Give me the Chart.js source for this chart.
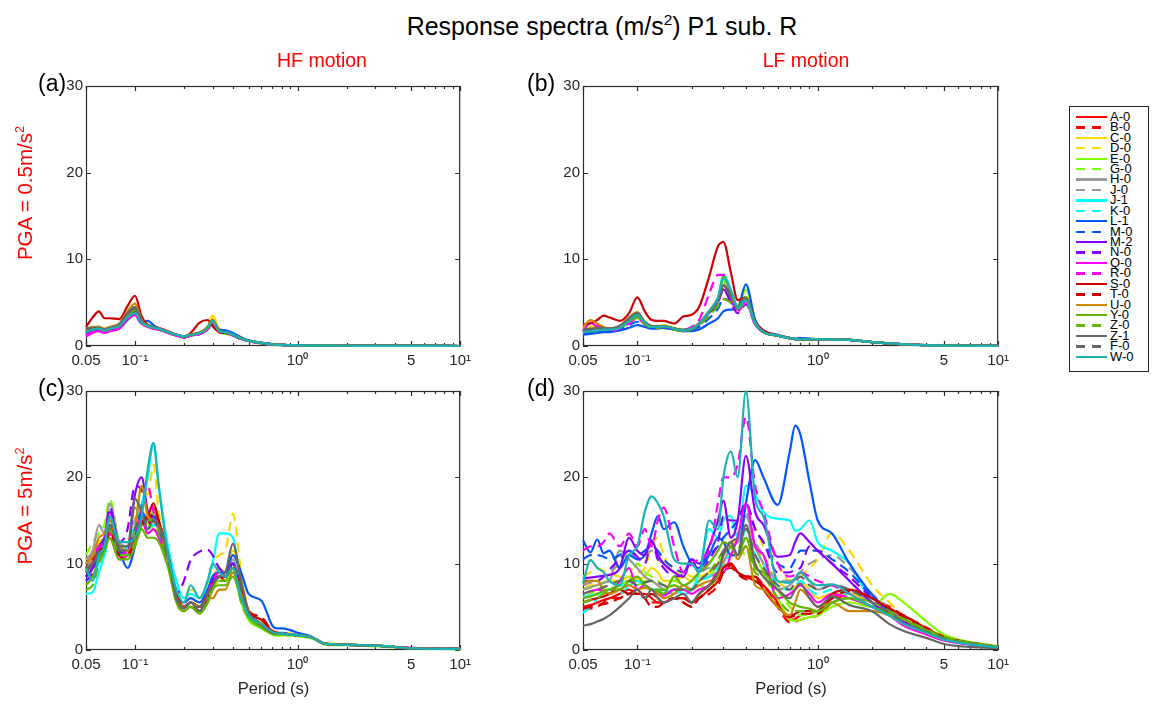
<!DOCTYPE html>
<html>
<head>
<meta charset="utf-8">
<script src="https://cdn.jsdelivr.net/npm/chart.js@4.4.1/dist/chart.umd.min.js"></script>
<style>
  body { margin: 0; background: #fff; font-family: 'Liberation Sans', Arial, Helvetica, sans-serif; }
  #fig { position: relative; width: 1159px; height: 704px; overflow: hidden; background: #fff; }
  .txt { position: absolute; white-space: nowrap; line-height: 1; }
  sup { font-size: 0.62em; vertical-align: 0; position: relative; top: -0.62em; line-height: 0; }
  .panel { position: absolute; }
  #legend { position: absolute; left: 1069px; top: 106px; width: 80px; height: 266px; border: 1px solid #262626; box-sizing: border-box; background: #fff; }
  .lrow { position: absolute; left: 0; height: 10.4px; width: 78px; }
  .lsw { position: absolute; left: 6px; top: 4px; width: 31px; height: 2.4px; }
  .llab { position: absolute; left: 40px; top: 0; font-size: 13px; line-height: 10.4px; color: #000; }
</style>
</head>
<body>
<div id="fig">
  <div class="txt" style="left:302px;width:600px;text-align:center;top:14px;font-size:25px;color:#000;">Response spectra (m/s<sup>2</sup>) P1 sub. R</div>
  <div class="txt" style="left:222px;width:200px;text-align:center;top:51px;font-size:19.5px;color:#ff0000;">HF motion</div>
  <div class="txt" style="left:706px;width:200px;text-align:center;top:51px;font-size:19.5px;color:#ff0000;">LF motion</div>
  <div class="txt" style="left:25px;top:193px;font-size:20.5px;color:#ff0000;transform:translate(-50%,-50%) rotate(-90deg);">PGA = 0.5m/s<sup>2</sup></div>
  <div class="txt" style="left:25px;top:506px;font-size:20.5px;color:#ff0000;transform:translate(-50%,-50%) rotate(-90deg);">PGA = 5m/s<sup>2</sup></div>
  <div class="txt" style="left:38px;top:72px;font-size:23px;color:#000;">(a)</div>
  <div class="txt" style="left:527px;top:72px;font-size:23px;color:#000;">(b)</div>
  <div class="txt" style="left:38px;top:377px;font-size:23px;color:#000;">(c)</div>
  <div class="txt" style="left:527px;top:377px;font-size:23px;color:#000;">(d)</div>
  <div class="txt" style="left:173.5px;width:200px;text-align:center;top:680px;font-size:16.5px;color:#262626;">Period (s)</div>
  <div class="txt" style="left:691px;width:200px;text-align:center;top:680px;font-size:16.5px;color:#262626;">Period (s)</div>
  <div id="legend"></div>
</div>
<script>
// periods (s) at which the spectra are read
const periods = [0.05, 0.055, 0.06, 0.065, 0.07, 0.08, 0.09, 0.1, 0.11, 0.12, 0.13, 0.14, 0.16, 0.18, 0.2, 0.22, 0.25, 0.28, 0.3, 0.33, 0.36, 0.4, 0.45, 0.5, 0.6, 0.7, 0.75, 0.8, 0.9, 1.0, 1.2, 1.5, 2, 2.5, 3, 4, 5, 10];

const seriesNames = ['A-0','B-0','C-0','D-0','E-0','G-0','H-0','J-0','J-1','K-0','L-1','M-0','M-2','N-0','Q-0','R-0','S-0','T-0','U-0','Y-0','Z-0','Z-1','F-0','W-0'];
const seriesColors = ['#ff0000','#ff0000','#ffd800','#ffd800','#80ff00','#80ff00','#999999','#999999','#00ffff','#00ffff','#0055ff','#0055ff','#8800ff','#8800ff','#ff00ff','#ff00ff','#cc0000','#cc0000','#cc8800','#66b300','#66b300','#666666','#666666','#19b3b3'];
const seriesDashed = [false,true,false,true,false,true,false,true,false,true,false,true,false,true,false,true,false,true,false,false,true,false,true,false];

const xTickValues = [0.05, 0.1, 1, 5, 10];
const xTickLabels = ['0.05', '10\u207B\u00B9', '10\u2070', '5', '10\u00B9'];
const xMinorTicks = [0.2, 0.3, 0.4, 0.5, 0.6, 0.7, 0.8, 0.9, 2, 3, 4, 6, 7, 8, 9];
const yTickValues = [0, 10, 20, 30];

// (a) HF motion, PGA = 0.5 m/s2
const valuesA = [
  [1.9,2.1,2.2,1.9,2.1,2.5,3.8,4.4,3.0,2.4,2.3,2.1,1.7,1.3,1.1,1.3,1.6,2.2,3.0,1.8,1.6,1.3,0.9,0.6,0.35,0.2,0.15,0.12,0.1,0.08,0.05,0.04,0.03,0.02,0.02,0.01,0.01,0],
  [1.6,1.9,2.0,1.8,1.9,2.3,3.5,4.1,2.9,2.3,2.1,2.0,1.6,1.3,1.0,1.2,1.5,2.0,2.8,1.7,1.5,1.3,0.9,0.6,0.35,0.2,0.15,0.12,0.1,0.08,0.05,0.04,0.03,0.02,0.02,0.01,0.01,0],
  [1.8,2.1,2.0,1.9,2.1,2.4,3.7,4.3,2.8,2.3,2.2,2.0,1.6,1.3,1.1,1.4,1.6,2.3,3.5,2.0,1.8,1.4,0.9,0.6,0.35,0.2,0.15,0.12,0.1,0.08,0.05,0.04,0.03,0.02,0.02,0.01,0.01,0],
  [1.7,2.0,2.1,1.8,2.0,2.5,3.6,4.0,2.7,2.3,2.2,2.0,1.6,1.3,1.1,1.3,1.5,2.2,3.2,1.9,1.7,1.3,0.9,0.6,0.35,0.2,0.15,0.12,0.1,0.08,0.05,0.04,0.03,0.02,0.02,0.01,0.01,0],
  [1.5,1.8,1.9,1.7,1.9,2.2,3.4,3.9,2.6,2.2,2.1,1.9,1.5,1.2,1.0,1.2,1.4,2.0,2.7,1.6,1.5,1.2,0.8,0.55,0.3,0.18,0.14,0.11,0.09,0.07,0.05,0.04,0.03,0.02,0.02,0.01,0.01,0],
  [1.4,1.7,1.8,1.6,1.8,2.1,3.3,3.8,2.7,2.2,2.0,1.9,1.5,1.2,1.0,1.2,1.4,1.9,2.6,1.6,1.4,1.2,0.8,0.55,0.3,0.18,0.14,0.11,0.09,0.07,0.05,0.04,0.03,0.02,0.02,0.01,0.01,0],
  [1.8,2.0,2.1,1.9,2.0,2.4,3.8,4.5,2.9,2.4,2.2,2.0,1.6,1.3,1.1,1.3,1.5,2.1,2.9,1.7,1.6,1.3,0.9,0.6,0.35,0.2,0.15,0.12,0.1,0.08,0.05,0.04,0.03,0.02,0.02,0.01,0.01,0],
  [1.7,2.0,2.0,1.8,2.0,2.3,3.6,4.2,2.8,2.3,2.1,2.0,1.6,1.3,1.1,1.3,1.5,2.0,2.8,1.7,1.6,1.3,0.9,0.6,0.35,0.2,0.15,0.12,0.1,0.08,0.05,0.04,0.03,0.02,0.02,0.01,0.01,0],
  [1.5,1.8,1.9,1.7,1.9,2.2,3.3,3.7,2.7,2.3,2.1,1.9,1.5,1.2,1.0,1.2,1.4,2.0,2.7,1.6,1.5,1.2,0.8,0.55,0.3,0.18,0.14,0.11,0.09,0.07,0.05,0.04,0.03,0.02,0.02,0.01,0.01,0],
  [1.6,1.9,1.9,1.7,1.9,2.2,3.4,3.8,2.7,2.3,2.1,1.9,1.5,1.2,1.0,1.2,1.4,2.0,2.8,1.6,1.5,1.2,0.85,0.55,0.3,0.18,0.14,0.11,0.09,0.07,0.05,0.04,0.03,0.02,0.02,0.01,0.01,0],
  [1.4,1.7,1.7,1.6,1.8,2.0,3.0,3.6,2.6,2.9,2.4,2.0,1.6,1.3,1.1,1.3,1.5,2.0,2.7,1.9,1.8,1.5,1.0,0.65,0.4,0.22,0.16,0.13,0.1,0.08,0.05,0.04,0.03,0.02,0.02,0.01,0.01,0],
  [1.5,1.8,1.8,1.7,1.8,2.1,3.2,3.8,2.7,2.5,2.2,2.0,1.6,1.3,1.0,1.2,1.5,2.0,2.7,1.8,1.7,1.4,0.95,0.6,0.38,0.21,0.15,0.12,0.1,0.08,0.05,0.04,0.03,0.02,0.02,0.01,0.01,0],
  [1.6,1.9,1.9,1.7,1.9,2.2,3.4,4.0,2.7,2.3,2.1,2.0,1.6,1.3,1.1,1.3,1.5,2.0,2.8,1.7,1.6,1.3,0.9,0.6,0.35,0.2,0.15,0.12,0.1,0.08,0.05,0.04,0.03,0.02,0.02,0.01,0.01,0],
  [1.5,1.8,1.9,1.7,1.9,2.2,3.3,3.9,2.7,2.3,2.1,1.9,1.6,1.3,1.0,1.2,1.4,2.0,2.7,1.7,1.5,1.3,0.9,0.6,0.35,0.2,0.15,0.12,0.1,0.08,0.05,0.04,0.03,0.02,0.02,0.01,0.01,0],
  [1.1,1.5,1.7,1.5,1.7,2.0,3.1,3.6,2.6,2.2,2.0,1.9,1.5,1.2,1.0,1.2,1.4,1.9,2.6,1.6,1.5,1.2,0.8,0.55,0.3,0.18,0.14,0.11,0.09,0.07,0.05,0.04,0.03,0.02,0.02,0.01,0.01,0],
  [1.2,1.6,1.8,1.6,1.8,2.1,3.2,3.7,2.6,2.2,2.0,1.9,1.5,1.2,1.0,1.2,1.4,1.9,2.7,1.6,1.5,1.2,0.85,0.55,0.3,0.18,0.14,0.11,0.09,0.07,0.05,0.04,0.03,0.02,0.02,0.01,0.01,0],
  [2.2,3.3,4.0,3.2,3.2,3.1,4.6,5.8,3.4,2.4,2.2,2.0,1.6,1.3,1.1,1.5,2.7,3.0,2.3,1.6,1.5,1.3,0.9,0.6,0.35,0.2,0.15,0.12,0.1,0.08,0.05,0.04,0.03,0.02,0.02,0.01,0.01,0],
  [1.8,2.0,2.1,1.9,2.0,2.4,3.6,4.2,2.8,2.3,2.2,2.0,1.6,1.3,1.1,1.3,1.5,2.1,2.9,1.7,1.6,1.3,0.9,0.6,0.35,0.2,0.15,0.12,0.1,0.08,0.05,0.04,0.03,0.02,0.02,0.01,0.01,0],
  [2.0,2.2,2.2,2.0,2.2,2.6,4.0,4.9,3.0,2.4,2.2,2.0,1.6,1.3,1.1,1.3,1.5,2.1,2.9,1.7,1.6,1.3,0.9,0.6,0.35,0.2,0.15,0.12,0.1,0.08,0.05,0.04,0.03,0.02,0.02,0.01,0.01,0],
  [1.7,2.0,2.0,1.8,2.0,2.4,3.6,4.3,2.8,2.3,2.2,2.0,1.6,1.3,1.1,1.3,1.5,2.1,3.0,1.7,1.6,1.3,0.9,0.6,0.35,0.2,0.15,0.12,0.1,0.08,0.05,0.04,0.03,0.02,0.02,0.01,0.01,0],
  [1.6,1.9,1.9,1.8,1.9,2.3,3.5,4.1,2.8,2.3,2.1,2.0,1.6,1.3,1.1,1.3,1.5,2.0,2.8,1.7,1.6,1.3,0.9,0.6,0.35,0.2,0.15,0.12,0.1,0.08,0.05,0.04,0.03,0.02,0.02,0.01,0.01,0],
  [2.0,2.1,2.1,1.9,2.1,2.5,3.8,4.5,2.9,2.4,2.2,2.0,1.6,1.3,1.1,1.3,1.5,2.2,3.0,1.8,1.6,1.3,0.9,0.6,0.35,0.2,0.15,0.12,0.1,0.08,0.05,0.04,0.03,0.02,0.02,0.01,0.01,0],
  [1.9,2.0,2.1,1.9,2.0,2.4,3.7,4.3,2.8,2.3,2.2,2.0,1.6,1.3,1.1,1.3,1.5,2.1,2.9,1.7,1.6,1.3,0.9,0.6,0.35,0.2,0.15,0.12,0.1,0.08,0.05,0.04,0.03,0.02,0.02,0.01,0.01,0],
  [1.6,1.9,2.0,1.8,2.0,2.3,3.3,3.8,2.7,2.3,2.1,2.0,1.6,1.3,1.1,1.3,1.5,2.1,2.9,1.7,1.6,1.3,0.9,0.6,0.35,0.2,0.15,0.12,0.1,0.08,0.05,0.04,0.03,0.02,0.02,0.01,0.01,0]
];

// (b) LF motion, PGA = 0.5 m/s2
const valuesB = [
  [1.8,1.9,2.0,2.0,2.0,2.2,3.0,3.5,2.7,2.3,2.2,2.3,2.0,1.8,2.0,2.6,3.9,5.2,7.0,5.6,4.4,5.5,2.7,1.6,1.2,0.9,0.8,0.75,0.8,0.8,0.75,0.7,0.45,0.3,0.2,0.1,0.05,0.02],
  [1.7,1.8,1.9,2.0,1.9,2.1,2.9,3.4,2.6,2.2,2.2,2.2,2.0,1.8,2.0,2.5,3.8,5.0,6.8,5.5,4.3,5.3,2.6,1.6,1.2,0.9,0.8,0.75,0.8,0.8,0.75,0.7,0.45,0.3,0.2,0.1,0.05,0.02],
  [2.0,2.2,2.3,2.1,2.0,2.3,3.1,3.7,2.8,2.3,2.3,2.4,2.1,1.9,2.1,2.7,4.0,5.4,7.2,5.8,4.5,5.6,2.8,1.6,1.2,0.9,0.8,0.75,0.8,0.8,0.75,0.7,0.45,0.3,0.2,0.1,0.05,0.02],
  [1.9,2.1,2.2,2.0,2.0,2.2,3.0,3.6,2.7,2.3,2.2,2.3,2.0,1.9,2.0,2.6,3.9,5.3,7.0,5.7,4.4,5.4,2.7,1.6,1.2,0.9,0.8,0.75,0.8,0.8,0.75,0.7,0.45,0.3,0.2,0.1,0.05,0.02],
  [1.5,1.6,1.7,1.8,1.8,2.0,2.7,3.2,2.5,2.1,2.1,2.1,1.9,1.7,1.9,2.5,3.8,5.2,7.5,6.0,4.6,6.5,3.0,1.6,1.2,0.9,0.8,0.75,0.8,0.8,0.75,0.7,0.45,0.3,0.2,0.1,0.05,0.02],
  [1.5,1.6,1.7,1.8,1.8,2.0,2.8,3.3,2.5,2.1,2.1,2.2,1.9,1.7,1.9,2.4,3.6,4.8,6.5,5.4,4.3,5.6,2.7,1.6,1.2,0.9,0.8,0.75,0.8,0.8,0.75,0.7,0.45,0.3,0.2,0.1,0.05,0.02],
  [1.8,1.9,2.0,2.0,2.0,2.2,3.1,3.6,2.7,2.2,2.2,2.3,2.0,1.8,2.0,2.6,3.9,5.3,7.0,5.8,4.4,5.4,2.6,1.6,1.2,0.9,0.8,0.75,0.8,0.8,0.75,0.7,0.45,0.3,0.2,0.1,0.05,0.02],
  [1.7,1.8,1.9,2.0,2.0,2.2,3.0,3.5,2.6,2.2,2.2,2.3,2.0,1.8,2.0,2.6,3.8,5.1,6.8,5.6,4.3,5.3,2.6,1.6,1.2,0.9,0.8,0.75,0.8,0.8,0.75,0.7,0.45,0.3,0.2,0.1,0.05,0.02],
  [1.6,1.8,1.9,2.0,2.0,2.2,3.0,3.6,2.7,2.2,2.2,2.3,2.0,1.8,2.0,2.6,4.0,5.5,8.3,6.5,4.5,5.4,2.6,1.6,1.2,0.9,0.8,0.75,0.8,0.8,0.75,0.7,0.45,0.3,0.2,0.1,0.05,0.02],
  [1.6,1.7,1.8,1.9,1.9,2.1,2.9,3.4,2.6,2.2,2.2,2.2,2.0,1.8,2.0,2.5,3.8,5.0,7.0,5.7,4.4,5.3,2.6,1.6,1.2,0.9,0.8,0.75,0.8,0.8,0.75,0.7,0.45,0.3,0.2,0.1,0.05,0.02],
  [1.3,1.4,1.5,1.6,1.6,1.8,2.1,2.4,2.2,2.0,2.0,2.1,1.9,1.7,1.7,1.9,2.6,3.2,4.0,4.2,4.4,7.1,3.0,1.8,1.3,0.95,0.85,0.9,0.85,0.8,0.75,0.7,0.45,0.3,0.2,0.1,0.05,0.02],
  [1.4,1.5,1.6,1.7,1.7,1.9,2.4,2.8,2.4,2.1,2.1,2.1,1.9,1.7,1.8,2.2,3.2,4.3,5.5,5.0,4.3,5.5,2.7,1.6,1.2,0.9,0.8,0.75,0.8,0.8,0.75,0.7,0.45,0.3,0.2,0.1,0.05,0.02],
  [1.6,1.7,1.8,1.9,1.9,2.1,2.9,3.5,2.6,2.2,2.2,2.2,2.0,1.8,2.0,2.5,3.8,5.2,6.5,5.3,4.2,5.2,2.6,1.6,1.2,0.9,0.8,0.75,0.8,0.8,0.75,0.7,0.45,0.3,0.2,0.1,0.05,0.02],
  [1.6,1.8,1.9,2.0,2.0,2.3,3.2,3.8,2.7,2.2,2.2,2.3,2.0,1.8,2.0,2.6,3.8,5.0,6.5,5.0,3.8,4.8,2.5,1.6,1.2,0.9,0.8,0.75,0.8,0.8,0.75,0.7,0.45,0.3,0.2,0.1,0.05,0.02],
  [1.7,2.7,2.2,2.0,1.9,2.1,2.9,3.4,2.6,2.2,2.2,2.2,2.0,1.8,2.0,2.6,4.0,5.5,7.0,5.6,4.3,5.2,2.5,1.6,1.2,0.9,0.8,0.75,0.8,0.8,0.75,0.7,0.45,0.3,0.2,0.1,0.05,0.02],
  [1.6,1.8,2.4,2.0,1.8,2.0,2.6,3.2,2.5,2.2,2.2,2.3,2.0,1.9,2.2,3.0,6.0,8.2,8.2,6.0,4.0,5.0,2.5,1.6,1.2,0.9,0.8,0.75,0.8,0.8,0.75,0.7,0.45,0.3,0.2,0.1,0.05,0.02],
  [2.5,2.6,3.0,3.5,3.3,2.9,3.8,5.6,4.0,3.0,2.9,2.9,2.6,3.4,3.6,4.5,8.0,11.5,12.0,8.5,5.3,5.6,2.8,1.8,1.2,0.9,0.8,0.75,0.8,0.8,0.75,0.7,0.45,0.3,0.2,0.1,0.05,0.02],
  [1.8,1.9,2.0,2.0,2.0,2.2,3.0,3.5,2.7,2.2,2.2,2.3,2.0,1.8,2.0,2.6,3.9,5.2,6.9,5.6,4.4,5.4,2.7,1.6,1.2,0.9,0.8,0.75,0.8,0.8,0.75,0.7,0.45,0.3,0.2,0.1,0.05,0.02],
  [2.2,3.0,2.6,2.2,2.0,2.3,3.3,3.9,2.8,2.3,2.2,2.3,2.0,1.8,2.0,2.6,3.9,5.3,7.0,5.7,4.4,5.4,2.7,1.6,1.2,0.9,0.8,0.75,0.8,0.8,0.75,0.7,0.45,0.3,0.2,0.1,0.05,0.02],
  [1.7,1.8,1.9,2.0,2.0,2.2,3.0,3.5,2.6,2.2,2.2,2.3,2.0,1.8,2.0,2.6,3.9,5.4,8.0,6.3,4.6,5.6,2.7,1.6,1.2,0.9,0.8,0.75,0.8,0.8,0.75,0.7,0.45,0.3,0.2,0.1,0.05,0.02],
  [1.6,1.7,1.8,1.9,1.9,2.1,2.8,3.3,2.5,2.1,2.1,2.2,1.9,1.7,1.9,2.4,3.5,4.6,5.4,5.0,4.3,5.0,2.6,1.6,1.2,0.9,0.8,0.75,0.8,0.8,0.75,0.7,0.45,0.3,0.2,0.1,0.05,0.02],
  [1.9,2.0,2.1,2.1,2.0,2.3,3.2,3.8,2.8,2.3,2.3,2.3,2.0,1.9,2.0,2.6,4.0,5.4,7.0,5.8,4.5,5.5,2.7,1.6,1.2,0.9,0.8,0.75,0.8,0.8,0.75,0.7,0.45,0.3,0.2,0.1,0.05,0.02],
  [1.8,1.9,2.0,2.0,2.0,2.2,3.0,3.6,2.7,2.2,2.2,2.3,2.0,1.8,2.0,2.6,3.9,5.2,6.8,5.6,4.4,5.4,2.7,1.6,1.2,0.9,0.8,0.75,0.8,0.8,0.75,0.7,0.45,0.3,0.2,0.1,0.05,0.02],
  [1.6,1.7,1.8,1.9,1.9,2.1,2.9,3.6,2.7,2.2,2.2,2.3,2.0,1.8,2.0,2.6,4.0,5.6,7.8,6.4,4.4,5.3,2.6,1.6,1.2,0.9,0.8,0.75,0.8,0.8,0.75,0.7,0.45,0.3,0.2,0.1,0.05,0.02]
];

// (c) HF motion, PGA = 5 m/s2
const valuesC = [
  [9.5,10.5,12,12.5,14.5,11.5,11,13,15,14,15.5,14.5,10.5,6,5,5.5,5,6.5,8,9,8.5,10,7,4.3,3.0,2.0,1.9,1.9,1.8,1.7,1.5,0.7,0.6,0.55,0.5,0.35,0.2,0.12],
  [8.5,9.5,11.5,12,14,11,10.5,12.5,16,14.5,16.5,15,11,6.5,5,5,4.5,6,7.5,8.5,8,9.5,6.5,4.0,3.5,2.1,1.9,1.8,1.8,1.7,1.5,0.7,0.6,0.55,0.5,0.35,0.2,0.12],
  [10,11,12.5,13,15,12,11.5,14,16,15.5,17,15,11,6.5,5.5,6,5.5,7,8.5,9.5,9,11.5,8,4.5,3.2,2.2,2.0,1.9,1.8,1.7,1.5,0.7,0.6,0.55,0.5,0.35,0.2,0.12],
  [10.5,11,12,13,15.5,12.5,12,15,19,18,21.5,16,11,7.5,6,7,6,8,10,11,11.5,15.8,9,4.5,3.0,2.0,1.9,1.9,2.0,1.8,1.5,0.8,0.7,0.6,0.55,0.4,0.2,0.12],
  [10,11,11.5,12.5,14,11,11,13.5,15,14.5,14,13.5,10,6,5,5,4.5,5.5,7,8,8,9,5.5,3.5,2.5,1.8,1.7,1.7,1.7,1.6,1.4,0.6,0.55,0.5,0.45,0.3,0.2,0.1],
  [11,12.5,13.5,14.5,17.5,12.5,11.5,13,14.5,15,16,14,10.5,6,5,5.5,5,6,7.5,8.5,8.5,10,6,3.5,2.5,1.8,1.7,1.7,1.7,1.6,1.4,0.6,0.55,0.5,0.45,0.3,0.2,0.1],
  [10.5,11.5,14.5,13.5,17,12.5,12,16.5,15,14,15,14,10.5,6,5,5.5,5,6.5,8,9,8.5,10.5,7,4.2,2.8,2.0,1.9,1.9,1.8,1.7,1.5,0.7,0.6,0.55,0.5,0.35,0.2,0.12],
  [9.5,10.5,12.5,13,15.5,12,11.5,15,16,14.5,15.5,14.5,10.5,6,5,5.5,5,6.5,7.5,8.5,8.5,10,7,4.2,2.8,2.0,1.9,1.9,1.8,1.7,1.5,0.7,0.6,0.55,0.5,0.35,0.2,0.12],
  [6.5,6.7,9,11,13.5,11.5,12,14.5,17,20,24,19,12,8,6,6.5,6,8,10,13.5,13.5,13,7.5,4.5,3.0,2.0,1.9,1.9,1.8,1.7,1.5,0.7,0.6,0.55,0.5,0.35,0.2,0.12],
  [8,8.5,10,11,13,11,11,13,15,14,14.5,13.5,10,6,5,5.5,5,6.5,8,9,9,10,6.5,4,2.8,2.0,1.9,1.9,1.8,1.7,1.5,0.7,0.6,0.55,0.5,0.35,0.2,0.12],
  [8.5,9.5,11,12,14,11.5,9.5,12,16,15,15.5,14,10.5,6.5,5.5,6,5.5,7,8.5,9,9,11,9,6.5,5.7,2.8,2.5,2.5,2.3,2.0,1.6,0.7,0.6,0.55,0.5,0.35,0.2,0.12],
  [9,10,11.5,12.5,14.5,12,11,13.5,16,15,15,14,10.5,6,5,5.5,5,6.5,8,9,8.5,10,7,4.3,3.0,2.1,2.0,2.0,1.9,1.7,1.5,0.7,0.6,0.55,0.5,0.35,0.2,0.12],
  [8.5,9.5,12,13,16,12,11.5,18,20,16,15,14,10,6,5,5.5,5,6.5,8,8.5,8.5,10,7,4.2,2.8,2.0,1.9,1.9,1.8,1.7,1.5,0.7,0.6,0.55,0.5,0.35,0.2,0.12],
  [8,9,11.5,13,16.5,12.5,14,19,18.5,16,15,14,10.5,6.5,8,10.4,11.4,11.6,11,9.5,9,10,7,4.2,2.8,2.0,1.9,1.9,1.8,1.7,1.5,0.7,0.6,0.55,0.5,0.35,0.2,0.12],
  [9,10,11,12,13,10.5,11,12.5,15,13.5,14,13,10,6,5,5.5,5,6.5,7.5,8.5,8.5,9.5,6.5,4,2.8,2.0,1.9,1.9,1.8,1.7,1.5,0.7,0.6,0.55,0.5,0.35,0.25,0.2],
  [10,11,12,12.5,13.5,11,11.5,13,16.5,19,16,14,10.5,6,5,5.5,5,6.5,8,9,8.5,9.5,6.5,4,2.8,2.0,1.9,1.9,1.8,1.7,1.5,0.7,0.6,0.55,0.5,0.35,0.25,0.2],
  [9,10,11.5,12,14,11,11,13,14.5,15.5,17,15,11,6.5,5,5.5,5,6.5,7.5,8.5,8.5,9.5,7,4.5,3.5,2.2,2.0,1.9,1.8,1.7,1.5,0.7,0.6,0.55,0.5,0.35,0.2,0.12],
  [9.5,10,11,12,13.5,11,10.5,12.5,15,14.5,16,15,11,6.5,5,5.5,4.5,6,7.5,8.5,8.5,9.5,7,4.5,3.8,2.2,2.0,1.9,1.8,1.7,1.5,0.7,0.6,0.55,0.5,0.35,0.2,0.12],
  [10,11,13,13.5,15,12,11.5,14,19,15.5,15,14,10.5,6,5,5.5,5,6,6,7,7,9,6.5,4,2.8,2.0,1.9,1.9,1.8,1.7,1.5,0.7,0.6,0.55,0.5,0.35,0.2,0.12],
  [7.5,8.5,10.5,11.5,13,10.5,10.5,12,14,13,13,12.5,9.5,5.5,4.5,5,4.2,5.5,7,7.5,7.5,8.5,6,3.8,2.6,1.9,1.8,1.8,1.8,1.7,1.5,0.7,0.6,0.55,0.5,0.35,0.2,0.12],
  [7,7.5,10,11.5,14,11,11,12.5,14.5,15,15,13.5,10,5.5,4.5,5,4.5,5.5,7,8,8,9.5,5.5,3.8,2.6,1.9,1.8,1.8,1.8,1.7,1.5,0.7,0.6,0.55,0.5,0.35,0.2,0.12],
  [9.5,10,11,12,15.5,12,12,17.5,16,14,15,14.5,11,6,4.8,5.5,4.5,6.5,7.5,8.5,9,12.3,8,4.5,3.0,2.0,1.9,1.9,1.8,1.7,1.5,0.7,0.6,0.55,0.5,0.35,0.2,0.12],
  [9,10,11.5,12,14.5,11.5,11.5,14,15.5,14.5,15,14,10.5,6,5,5.5,5,6.5,7.5,8.5,8.5,10,7,4.3,2.9,2.0,1.9,1.9,1.8,1.7,1.5,0.7,0.6,0.55,0.5,0.35,0.2,0.12],
  [9.5,8,11,12,15.5,12.5,12.5,13,15.5,21,24,19,11,7,5.5,7.5,6,8,10,9,8.5,9.5,6,4,3.0,2.1,1.9,1.9,1.8,1.7,1.5,0.7,0.6,0.55,0.5,0.35,0.2,0.12]
];

// (d) LF motion, PGA = 5 m/s2
const valuesD = [
  [5,5.2,5.5,5.8,6,6.5,7,6.5,6.5,6,5.5,5.5,6,6,5.5,6,7,8,9.5,10,9,8.5,8,7.5,5.5,3.5,3.6,4,4.2,4.5,6,6.5,5.5,4.6,3.8,2.4,1.5,0.35],
  [4.5,4.8,5,5.5,6,6,6.5,7,6,5.5,5.5,5.5,6,5.5,5,6,6.5,7.5,9,9.5,9,8.5,8.5,7.5,5,3.2,3.3,3.5,3.8,4,5.5,6.5,6,5,4,2.6,1.6,0.35],
  [7,7.5,7.5,7.8,8,8,8.5,8.2,8.5,9.5,9,8,8,8.5,8,8.5,9,10,11,12,13,14,12,10,8,7,7.3,8,7,6,6.5,6.5,5.5,4.6,3.5,2.3,1.4,0.35],
  [8.5,9,9.5,9.2,9,8.5,9.5,9,9.5,12,13,11,9,9,8.5,8.5,9,10,11,12,12.5,13,14,12,10,8,8.2,8.5,9.5,10.5,13.5,11.5,7.5,5.5,3.8,2.4,1.3,0.3],
  [6,6.5,7,7,7,7.5,8,7.5,8,8,7.5,7,7.5,7,7,8,8.5,10,11,12,11,13,11,9,6,3.5,3.4,3.5,3.8,4,5,5.5,5,6.5,5.5,3.3,1.8,0.4],
  [7,7.2,7.5,7.8,8,7.5,8,10,9,8.5,8,7.5,8,7.5,7,7.5,7,9,10,11,12,11,12.5,10,7,5,4.5,4,4.2,4.5,5.5,6,5.5,4.8,3.8,2.5,1.6,0.35],
  [7,7.3,7.5,7.8,8,11.5,10.5,9.5,8.5,8,7.5,7,6.5,7.5,7,8,8.5,9,10,12,12.5,15.5,12,10,7,7.5,8.2,9,8,7,7.5,7,5.5,4.3,3.2,2.2,1.3,0.3],
  [7.5,7.8,8,8.5,9,10,11.5,10.5,11,11.5,10.5,10,9,8.5,10,9,9.5,8.5,10,13,13.5,16,12.5,11,8,8,8.5,9,10,10.5,11,9.5,6.5,4.8,3.5,2.3,1.4,0.3],
  [6.2,6.3,6.5,6.8,7,7.5,7.5,8,7.5,7,7,6.5,7,6.5,7,9,14,13,15,15.5,13,19,18,16,15.2,15,13.8,14,15,12.5,11.5,10,5.5,4.3,3,2,1.2,0.3],
  [4.3,5,6,6.5,7,6.5,7.5,8,7.5,7,7,7,6.5,7,7,8,8.5,9.5,10,11,11,14,11,10,7.5,7,7.5,8,7,6.5,7,6.3,5,4.2,3,2,1.2,0.3],
  [12.7,11.3,12.8,11.2,11.5,9.5,11,10.5,11,13.5,15.5,14,14.8,12,10,9.5,11,13,12.5,11,11,17,22,20,16.8,23,26,25,19.5,15,13.5,10,6.4,4.5,3.2,2,1.2,0.3],
  [10.5,11,11,10.8,10.5,11,11.5,11,11.5,12,11.5,10.5,9.5,9,10.5,10,11,12,13,14,15,17,14,12.5,10,9.5,10.5,11.5,11.5,11.5,10.5,9,6.2,4.5,3.3,2.1,1.3,0.3],
  [8.3,8.4,8.5,8.6,8.7,9.5,13,11.5,11,12.7,11,10,9,8.5,10.5,10,12,15,17.3,13,15,22.5,16,14.5,10.8,11,12.5,13.5,12.5,11.5,10,8,5.5,4.2,3,2,1.3,0.3],
  [8,8,8,8.5,9.3,10.5,11.5,10.8,10,12.5,10.5,9.5,8.5,8.8,10.5,9,10.5,12.5,15.5,15,15,17,14,12.5,9,9,9.3,9.5,12,11.5,10,8.5,6,4.5,3.3,2.1,1.3,0.3],
  [6.5,6.8,7,6.8,6.5,8,9.5,7,7.5,7,6.5,6.3,7,7,6.5,7,7.5,9,9,11,13,17,12,11,6,6.5,7,7.5,6.5,5.5,6.5,6,5,4,2.8,1.8,1.1,0.3],
  [11.5,12,12,12.5,13.5,12,13.5,12,14,12,15,16.5,12,9,10,10.5,11.5,17,20,20,21.5,27,19,16,10,8.5,8.7,9,8.5,8,7.5,6.5,5,4,3,1.9,1.2,0.3],
  [5.5,5.8,6,6.2,6.5,7,6.5,7,6,6.5,6,5.5,6,6,5.5,6.5,7.5,8.5,9.5,10,9,8.5,8.5,7,5,4,4.2,4.5,4.5,4.5,6.5,7,6,4.8,4,2.5,1.5,0.35],
  [4.8,5,5.2,5.3,5.5,6,6.5,6.5,6,5,5,5.5,6,5.5,5,6,7,8,9,9.8,8.8,8.2,8,7.2,5.2,3.8,4,4.2,4.2,4.2,6,6.8,6,4.8,3.8,2.4,1.5,0.35],
  [7.8,8,8,7,6.5,7,7.5,7,7.2,7,6.5,6,6.5,7.5,7,7.5,8,8.5,11,12.5,10.5,12,7.5,7,5,4,5.5,7,6,5,5.5,4.5,4.5,4,3,2,1.3,0.35],
  [6,6.2,6.5,6.8,7,7,8,8.5,7.5,7,6.8,6.5,8.5,7.5,8,9,10,11.5,12.5,12,11,13,9.5,9,7,5.5,5.2,5,4.8,4.5,5.5,6,5,4.2,3.5,2.3,1.4,0.35],
  [5.5,5.8,6,6.5,7,7.5,8,8,7.5,7,7,7,7.5,7,7,8,9,10.5,11.5,12,11,12,9,8.5,6,4.5,4.5,4.5,4.5,4.5,5.5,6,5.5,4.5,3.6,2.4,1.5,0.35],
  [2.8,3,3.3,3.6,4,5,6,7,6,7,6,5.5,6,6.5,5.5,6.5,7.5,9,11,12.5,11,14.5,10,8.5,7,6,7,7.7,6,5,6.2,5.2,4.5,3,2.2,1.4,0.7,0.2],
  [6.5,6.8,7,7.3,7.5,8,8,7.5,7.8,8,7.8,7.5,7,7,7,8,9,10,11.5,12.5,13,14,11,9.5,7.5,7,7.8,8.5,7.5,7,7.5,7,5.5,4.3,3.2,2.1,1.3,0.3],
  [7.7,10.4,9.5,9,8,7.5,11,12,16,17.8,17,15.5,10.5,10,10,9,15,14,20,23,20,30,17.5,15.5,8,7.8,8.3,9,8,7.5,7.6,6.5,5,4,3,2,1.2,0.3]
];

Chart.defaults.font.family = "'Liberation Sans', Arial, Helvetica, sans-serif";
Chart.defaults.color = '#262626';

// box, inward ticks on all four sides (drawn under the lines)
const boxTicks = {
  id: 'boxTicks',
  beforeDatasetsDraw(chart) {
    const { ctx, chartArea: a, scales: { x, y } } = chart;
    ctx.save();
    ctx.strokeStyle = '#2b2b2b';
    ctx.lineWidth = 1.2;
    ctx.strokeRect(a.left + 0.5, a.top + 0.5, a.right - a.left - 1, a.bottom - a.top - 1);
    ctx.beginPath();
    const vtick = (v, len) => {
      const px = Math.round(x.getPixelForValue(v)) + 0.5;
      ctx.moveTo(px, a.bottom); ctx.lineTo(px, a.bottom - len);
      ctx.moveTo(px, a.top); ctx.lineTo(px, a.top + len);
    };
    xTickValues.forEach(v => vtick(v, 5));
    xMinorTicks.forEach(v => vtick(v, 3));
    yTickValues.forEach(v => {
      const py = Math.round(y.getPixelForValue(v)) + 0.5;
      ctx.moveTo(a.left, py); ctx.lineTo(a.left + 5, py);
      ctx.moveTo(a.right, py); ctx.lineTo(a.right - 5, py);
    });
    ctx.stroke();
    ctx.restore();
  }
};

function makeDatasets(values) {
  return seriesNames.map((name, i) => ({
    label: name,
    data: periods.map((p, k) => ({ x: p, y: values[i][k] })),
    borderColor: seriesColors[i],
    borderDash: seriesDashed[i] ? [10, 6] : [],
    borderWidth: 2.2,
    pointRadius: 0,
    fill: false,
    clip: false,
    order: seriesNames.length - 1 - i
  }));
}

const panels = [
  { L: 86, T: 86, R: 461, B: 346, values: valuesA },
  { L: 583, T: 86, R: 999, B: 346, values: valuesB },
  { L: 86, T: 391, R: 461, B: 650, values: valuesC },
  { L: 583, T: 391, R: 999, B: 650, values: valuesD }
];

const fig = document.getElementById('fig');
panels.forEach(pn => {
  const padL = 36, padT = 12, padR = 16, padB = 34;
  const w = pn.R - pn.L + padL + padR;
  const h = pn.B - pn.T + padT + padB;
  const wrap = document.createElement('div');
  wrap.className = 'panel';
  wrap.style.left = (pn.L - padL) + 'px';
  wrap.style.top = (pn.T - padT) + 'px';
  wrap.style.width = w + 'px';
  wrap.style.height = h + 'px';
  const cv = document.createElement('canvas');
  cv.width = w; cv.height = h;
  cv.style.width = w + 'px'; cv.style.height = h + 'px';
  wrap.appendChild(cv);
  fig.insertBefore(wrap, fig.firstChild);

  new Chart(cv, {
    type: 'line',
    data: { datasets: makeDatasets(pn.values) },
    options: {
      responsive: false,
      animation: false,
      devicePixelRatio: 1,
      layout: { padding: { left: 0, top: padT, right: padR, bottom: 0 } },
      plugins: { legend: { display: false }, tooltip: { enabled: false } },
      elements: { line: { tension: 0.4, cubicInterpolationMode: 'monotone' } },
      scales: {
        x: {
          type: 'logarithmic',
          min: 0.05, max: 10,
          grid: { display: false, drawTicks: false },
          border: { display: false },
          afterBuildTicks: s => { s.ticks = xTickValues.map(v => ({ value: v })); },
          afterFit: s => { s.height = padB; },
          ticks: {
            autoSkip: false, maxRotation: 0, minRotation: 0, padding: 6,
            color: '#262626', font: { size: 15 },
            callback: v => { const k = xTickValues.indexOf(v); return k >= 0 ? xTickLabels[k] : ''; }
          }
        },
        y: {
          min: 0, max: 30,
          grid: { display: false, drawTicks: false },
          border: { display: false },
          afterBuildTicks: s => { s.ticks = yTickValues.map(v => ({ value: v })); },
          afterFit: s => { s.width = padL; },
          ticks: { padding: 3, color: '#262626', font: { size: 15 } }
        }
      }
    },
    plugins: [boxTicks]
  });
});

// legend (box on the right)
const legend = document.getElementById('legend');
seriesNames.forEach((name, i) => {
  const row = document.createElement('div');
  row.className = 'lrow';
  row.style.top = (4.8 + 10.43 * i) + 'px';
  const sw = document.createElement('div');
  sw.className = 'lsw';
  const c = seriesColors[i];
  sw.style.background = seriesDashed[i]
    ? `linear-gradient(to right, ${c} 0 9px, transparent 9px 16px, ${c} 16px 25px, transparent 25px)`
    : c;
  const lab = document.createElement('div');
  lab.className = 'llab';
  lab.textContent = name;
  row.appendChild(sw);
  row.appendChild(lab);
  legend.appendChild(row);
});
</script>
</body>
</html>
